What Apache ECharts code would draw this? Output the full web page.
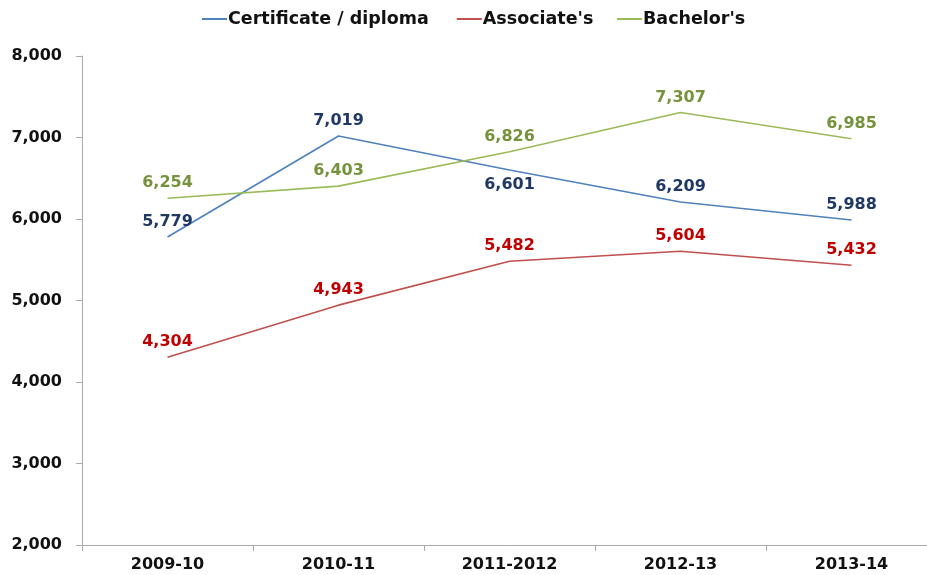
<!DOCTYPE html>
<html><head><meta charset="utf-8">
<script src="https://cdn.jsdelivr.net/npm/echarts@6/dist/echarts.min.js"></script>
<style>html,body{margin:0;padding:0;background:#fff}#c{width:927px;height:575px}</style>
</head><body><div id="c"></div>
<script>
const categories = ['2009-10','2010-11','2011-2012','2012-13','2013-14'];
const certificate = [5779,7019,6601,6209,5988];
const associates = [4304,4943,5482,5604,5432];
const bachelors = [6254,6403,6826,7307,6985];
const certLabelPos = ['top','top','bottom','top','top'];

const chart = echarts.init(document.getElementById('c'));
const fmt = v => v.toLocaleString('en-US');
const font = 'DejaVu Sans';
function mk(name, data, color, labelColor, positions){
  return {
    name, type:'line', data: data.map((v,i)=>({value:v, label:{position: positions ? positions[i] : 'top'}})),
    symbol:'circle', symbolSize:0.01, showSymbol:true, lineStyle:{color, width:1.6}, itemStyle:{color},
    label:{show:true, formatter:p=>fmt(p.value), color:labelColor, fontFamily:font, fontWeight:'bold', fontSize:16, distance:7}
  };
}
const legendBase = {top:5, itemWidth:25, itemHeight:2, itemGap:28, icon:'rect',
  textStyle:{fontFamily:font, fontWeight:'bold', fontSize:17.5, color:'#111', padding:[0,0,0,-4]}};
chart.setOption({
  animation:false,
  textStyle:{fontFamily:font},
  legend:[
    Object.assign({}, legendBase, {left:197, data:["Certificate / diploma","Associate's"]}),
    Object.assign({}, legendBase, {left:612, data:["Bachelor's"]})
  ],
  grid:{left:82, width:855, top:56, height:489, outerBoundsMode:'none', containLabel:false},
  xAxis:{type:'category', data:categories, boundaryGap:true,
    axisLine:{lineStyle:{color:'#aaa'}}, axisTick:{show:true, length:6, lineStyle:{color:'#aaa'}},
    axisLabel:{fontFamily:font, fontWeight:'bold', fontSize:16, color:'#111', margin:12}},
  yAxis:{type:'value', min:2000, max:8000, interval:1000,
    axisLine:{show:true, lineStyle:{color:'#aaa'}}, axisTick:{show:true, length:6, lineStyle:{color:'#aaa'}},
    splitLine:{show:false},
    axisLabel:{fontFamily:font, fontWeight:'bold', fontSize:16, color:'#111', margin:20, formatter:v=>fmt(v)}},
  series:[
    mk("Certificate / diploma", certificate, '#4F81BD', '#1F3864', certLabelPos),
    mk("Associate's", associates, '#C0504D', '#C00000'),
    mk("Bachelor's", bachelors, '#9BBB59', '#76923C')
  ]
});
</script></body></html>
